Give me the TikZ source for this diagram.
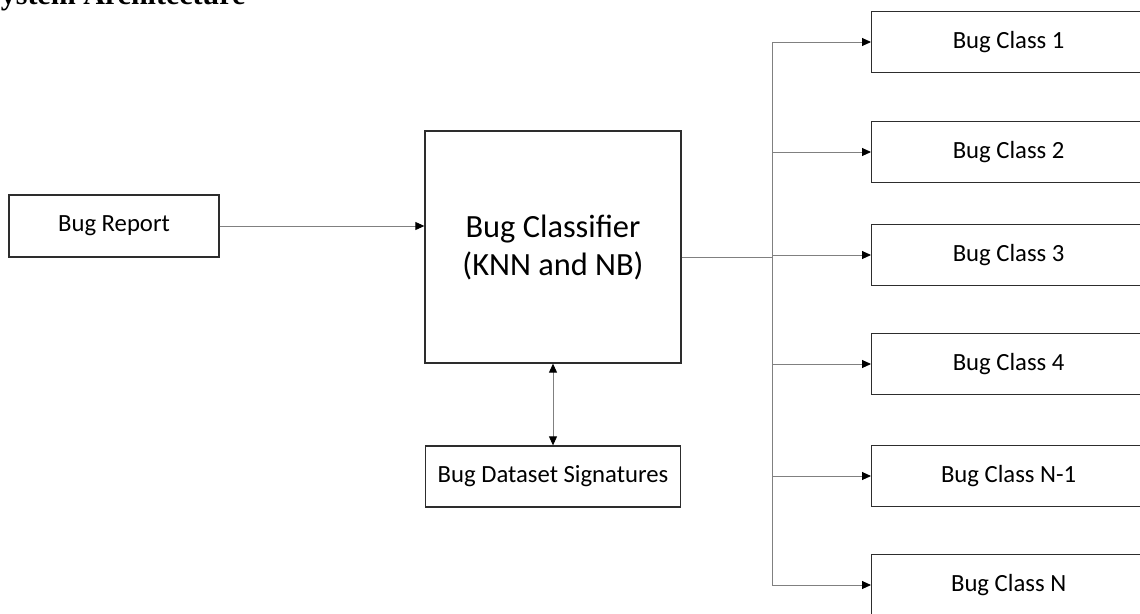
\documentclass[tikz,border=0pt]{standalone}
\usepackage{fontspec}
\setmainfont{Carlito}
\newfontfamily\headfont{Liberation Serif}
\usetikzlibrary{positioning,arrows.meta,calc}
\definecolor{linegray}{RGB}{128,128,128}
\definecolor{boxline}{RGB}{45,45,45}
\tikzset{
box/.style={draw=boxline, line width=1.3pt, inner sep=0pt, font=\fontsize{24.7}{30}\selectfont},
wire/.style={draw=linegray, line width=0.9pt},
link/.style={wire, -{Triangle[length=9pt,width=8pt,color=black]}},
duallink/.style={wire, {Triangle[length=9pt,width=8pt,color=black]}-{Triangle[length=9pt,width=8pt,color=black]}}
}

\begin{document}
\begin{tikzpicture}[x=1pt,y=-1pt]
        \useasboundingbox (0,0) rectangle (1140,613);
        \clip (0,0) rectangle (1140,613);
        \node[anchor=base east, font=\headfont\bfseries\fontsize{30}{36}\selectfont] (title) at (249,5) {System Architecture};
        \node[box, minimum width=210pt, minimum height=62pt] (report) at (114,226) {Bug Report};
        \node[box, minimum width=256pt, minimum height=232pt, align=center, font=\fontsize{32.4}{38}\selectfont] (clf) at (553,247) {Bug Classifier\\(KNN and NB)};
        \node[box, minimum width=255pt, minimum height=61pt] (data) at (553,476.5) {Bug Dataset Signatures};
        \coordinate (bus) at (772,257);
        \foreach \n/\lbl/\yc in {1/1/42,2/2/152,3/3/255,4/4/364,5/N-1/476,6/N/585}{
            \node[box, minimum width=274pt, minimum height=61pt, anchor=west] (cls\n) at (871,\yc) {Bug Class \lbl};
        }
        \draw[link] (report.east) -- (clf.west |- report.east);
        \draw[duallink] (clf) -- (data);
        \draw[wire] (clf.east |- bus) -- (bus);
        \draw[wire] (bus |- cls1.west) -- (bus |- cls6.west);
        \foreach \n in {1,...,6}
            \draw[link] (bus |- cls\n.west) -- (cls\n.west);
        % \draw[wire] (clf.east) -- (bus);
    \end{tikzpicture}
\end{document}
